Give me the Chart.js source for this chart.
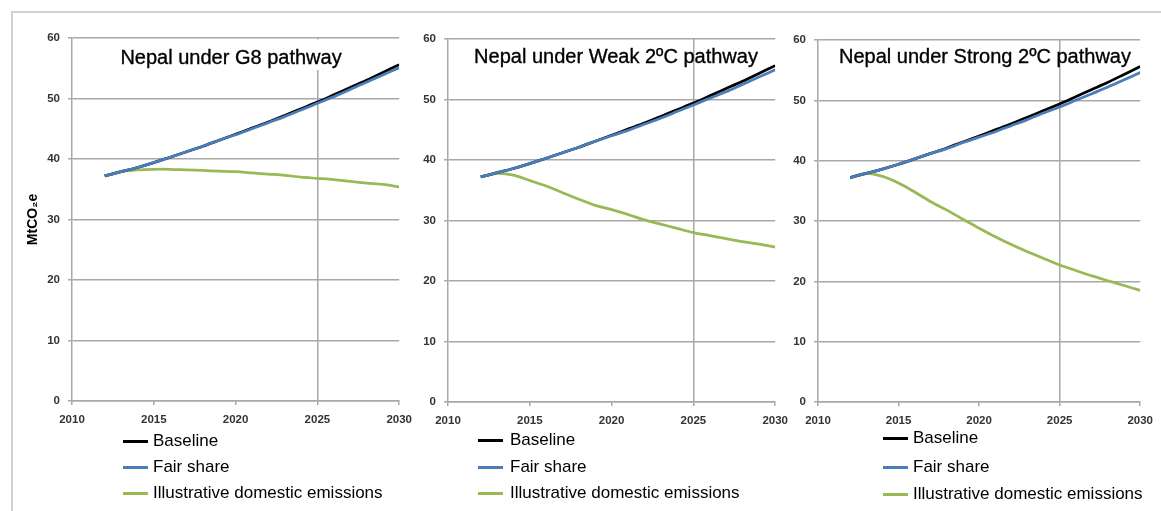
<!DOCTYPE html>
<html>
<head>
<meta charset="utf-8">
<script src="https://cdn.jsdelivr.net/npm/chart.js@4"></script>
<style>
body{margin:0;background:#fff;width:1161px;height:511px;overflow:hidden;position:relative;font-family:"Liberation Sans",Arial,sans-serif;}
#frame{position:absolute;left:11px;top:11px;width:1160px;height:510px;border-left:2px solid #d0d0d0;border-top:2px solid #d0d0d0;}
canvas{position:absolute;top:0;}
.leg{position:absolute;height:20px;line-height:20px;font-size:17px;color:#000;white-space:nowrap;}
.sw{position:absolute;width:25px;height:3px;}
</style>
</head>
<body>
<div id="frame"></div>
<canvas id="c1" width="420" height="430" style="left:0px"></canvas>
<canvas id="c2" width="381" height="431" style="left:415px"></canvas>
<canvas id="c3" width="375" height="431" style="left:786px"></canvas>
<script>
const years = [2012,2013,2014,2015,2016,2017,2018,2019,2020,2021,2022,2023,2024,2025,2026,2027,2028,2029,2030];
const baseline = [37.2,37.9,38.6,39.4,40.3,41.2,42.1,43.1,44.1,45.1,46.1,47.2,48.3,49.4,50.6,51.8,53.0,54.3,55.6];
const fairG8 = [37.2,37.9,38.6,39.4,40.3,41.2,42.1,43.1,44.0,45.0,46.0,47.0,48.1,49.2,50.3,51.5,52.7,53.9,55.1];
const fairWeak = [37.2,37.9,38.6,39.4,40.3,41.2,42.1,43.1,44.0,44.9,45.9,46.9,48.0,49.1,50.2,51.3,52.5,53.7,54.9];
const fairStrong = [37.2,37.9,38.6,39.4,40.3,41.2,42.0,43.0,43.9,44.8,45.8,46.8,47.9,48.9,50.0,51.1,52.2,53.4,54.6];
const domesticG8 = [37.2,37.9,38.2,38.3,38.3,38.2,38.1,38.0,37.9,37.7,37.5,37.3,37.0,36.8,36.6,36.3,36.0,35.8,35.4];
const domesticWeak = [37.2,37.8,37.5,36.6,35.7,34.6,33.5,32.5,31.8,31.0,30.1,29.4,28.7,28.0,27.5,27.0,26.5,26.1,25.6];
const domesticStrong = [37.2,37.9,37.4,36.3,34.8,33.2,31.8,30.3,28.8,27.4,26.1,24.9,23.8,22.7,21.8,20.9,20.1,19.3,18.5];

const seriesNames = ["Baseline", "Fair share", "Illustrative domestic emissions"];
const seriesColors = ["#000000", "#4a7ebb", "#98b954"];
const drawOrder = [1, 0, 2]; // blue sits on top of black, green underneath
const xTicks = [2010, 2015, 2020, 2025, 2030];
const yTicks = [0, 10, 20, 30, 40, 50, 60];
const titles = ["Nepal under G8 pathway", "Nepal under Weak 2ºC pathway", "Nepal under Strong 2ºC pathway"];
const yTitle = "MtCO₂e";

const gridGrey = "#a8a8a8";

const innerTitle = {
  id: "innerTitle",
  beforeDatasetsDraw(chart, args, o) {
    const ctx = chart.ctx;
    ctx.save();
    ctx.font = '20px "Liberation Sans", Arial, sans-serif';
    ctx.textAlign = "center";
    ctx.textBaseline = "alphabetic";
    if (o.bg) {
      const w = ctx.measureText(o.text).width;
      ctx.fillStyle = "#fff";
      ctx.fillRect(o.x - w / 2 - 6, chart.chartArea.top + 1.5, w + 12, o.y + 6 - chart.chartArea.top - 1.5);
    }
    ctx.fillStyle = "#000";
    ctx.fillText(o.text, o.x, o.y);
    ctx.strokeStyle = "#000";
    ctx.lineWidth = 0.35;
    ctx.strokeText(o.text, o.x, o.y);
    ctx.restore();
  }
};

function pts(arr) {
  return years.map((y, i) => ({x: y, y: arr[i]}));
}

function makePanel(id, p) {
  const sets = [baseline, p.fair, p.domestic];
  new Chart(document.getElementById(id), {
    type: "line",
    data: {
      datasets: sets.map((s, i) => ({
        label: seriesNames[i],
        data: pts(s),
        order: drawOrder[i],
        borderColor: seriesColors[i],
        backgroundColor: seriesColors[i],
        borderWidth: 2.75,
        pointRadius: 0,
        tension: 0.3,
        fill: false
      }))
    },
    options: {
      responsive: false,
      animation: false,
      layout: {padding: {top: p.top, right: p.right, left: 0, bottom: 0}},
      plugins: {
        legend: {display: false},
        tooltip: {enabled: false},
        innerTitle: {text: p.title, x: p.tx, y: p.ty, bg: p.bg}
      },
      scales: {
        x: {
          type: "linear",
          min: 2010,
          max: 2030,
          afterBuildTicks: s => { s.ticks = xTicks.map(v => ({value: v})); },
          afterFit: s => { s.height = 29; },
          grid: {
            color: c => (c.tick && c.tick.value === 2025) ? gridGrey : "rgba(0,0,0,0)",
            tickColor: gridGrey,
            tickLength: 4,
            lineWidth: 1.5
          },
          border: {color: gridGrey, width: 1.5},
          ticks: {
            padding: 8,
            maxRotation: 0,
            color: "#333",
            font: {family: "Liberation Sans", size: 11.5, weight: "bold"},
            callback: v => String(v)
          }
        },
        y: {
          min: 0,
          max: 60,
          afterBuildTicks: s => { s.ticks = yTicks.map(v => ({value: v})); },
          afterFit: s => { s.width = p.yw; },
          grid: {color: gridGrey, tickColor: gridGrey, tickLength: 4, lineWidth: 1.5},
          border: {color: gridGrey, width: 1.5},
          ticks: {
            padding: 8,
            color: "#333",
            font: {family: "Liberation Sans", size: 11.5, weight: "bold"}
          },
          title: {
            display: p.showTitle,
            text: yTitle,
            color: "#000",
            padding: {top: 25, bottom: 0},
            font: {family: "Liberation Sans", size: 14, weight: "bold"}
          }
        }
      }
    },
    plugins: [innerTitle]
  });
}

makePanel("c1", {fair: fairG8, domestic: domesticG8, title: titles[0], tx: 231, ty: 64, bg: true, top: 38, right: 20, yw: 72, showTitle: true});
makePanel("c2", {fair: fairWeak, domestic: domesticWeak, title: titles[1], tx: 201, ty: 63, bg: false, top: 39, right: 20, yw: 33, showTitle: false});
makePanel("c3", {fair: fairStrong, domestic: domesticStrong, title: titles[2], tx: 199, ty: 62.5, bg: false, top: 40, right: 15, yw: 32, showTitle: false});

// legends below each panel
const legendSpots = [
  {lx: 123, tx: 153, rows: [441, 467, 493]},
  {lx: 478, tx: 510, rows: [440, 467, 493]},
  {lx: 883, tx: 913, rows: [438, 467, 494]}
];
legendSpots.forEach(spot => {
  seriesNames.forEach((name, i) => {
    const sw = document.createElement("div");
    sw.className = "sw";
    sw.style.left = spot.lx + "px";
    sw.style.top = (spot.rows[i] - 1.5) + "px";
    sw.style.background = seriesColors[i];
    document.body.appendChild(sw);
    const t = document.createElement("div");
    t.className = "leg";
    t.style.left = spot.tx + "px";
    t.style.top = (spot.rows[i] - 10) + "px";
    t.textContent = name;
    document.body.appendChild(t);
  });
});
</script>
</body>
</html>
